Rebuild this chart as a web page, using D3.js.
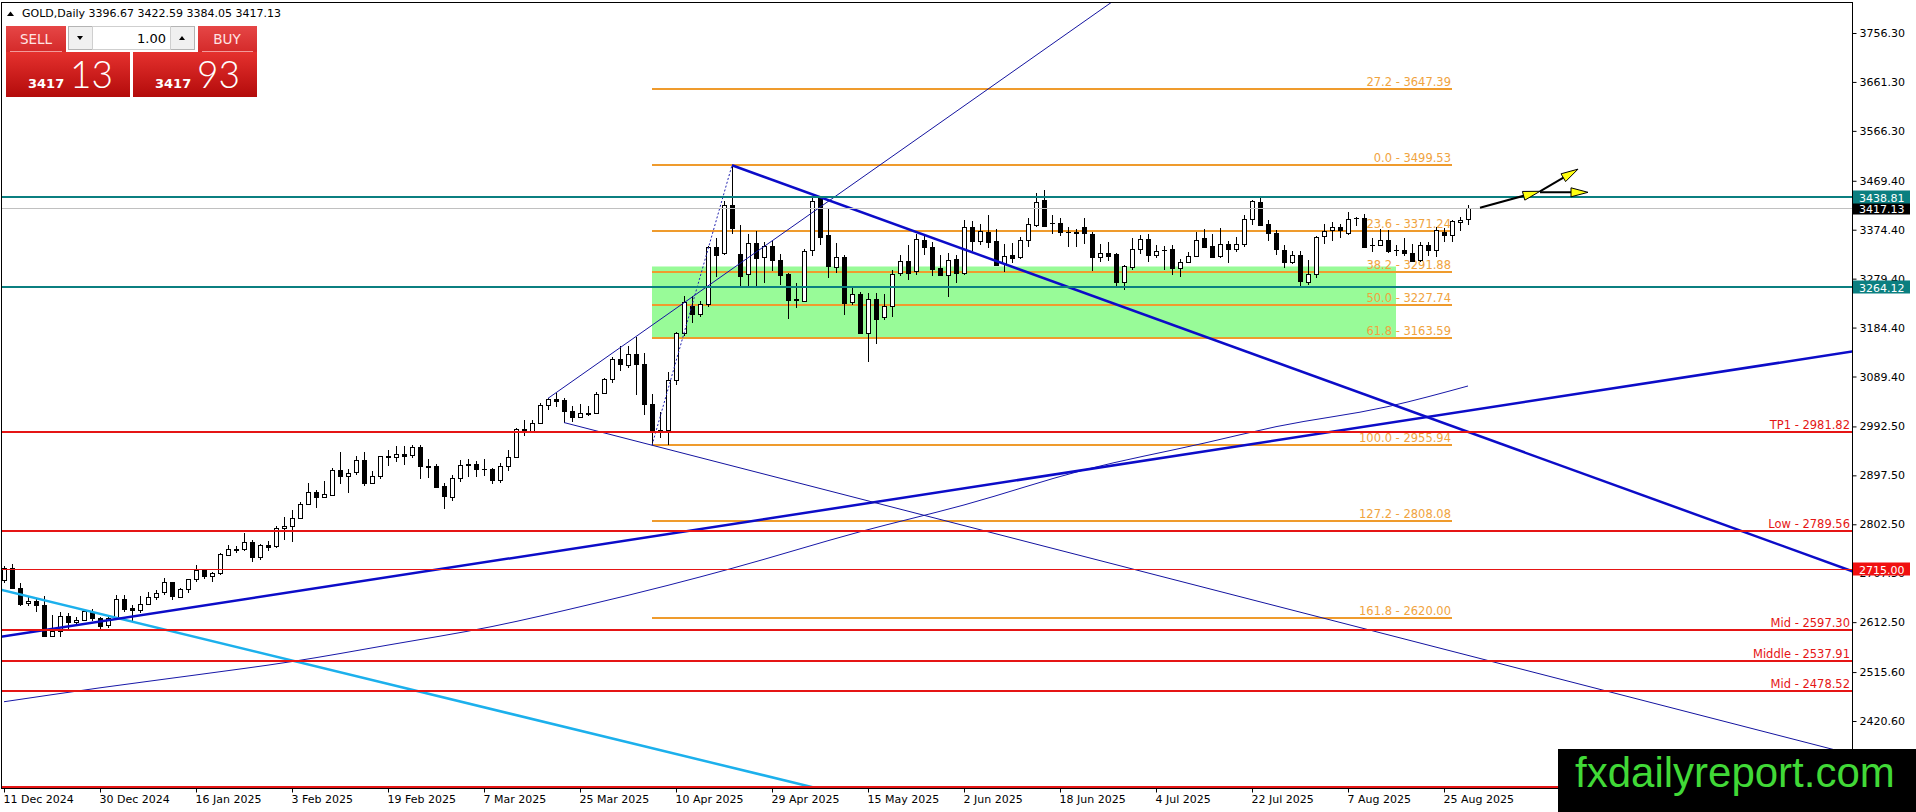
<!DOCTYPE html>
<html>
<head>
<meta charset="utf-8">
<script src="https://cdn.jsdelivr.net/npm/d3@7"></script>
<style>
body { margin: 0; background: #fff; overflow: hidden; }
</style>
</head>
<body>
<div id="chart"></div>
<script>
//data
const dates = [
"2024-12-11","2024-12-12","2024-12-13","2024-12-16","2024-12-17","2024-12-18","2024-12-19","2024-12-20","2024-12-23","2024-12-24","2024-12-26","2024-12-27",
"2024-12-30","2024-12-31","2025-01-02","2025-01-03","2025-01-06","2025-01-07","2025-01-08","2025-01-09","2025-01-10","2025-01-13","2025-01-14","2025-01-15",
"2025-01-16","2025-01-17","2025-01-20","2025-01-21","2025-01-22","2025-01-23","2025-01-24","2025-01-27","2025-01-28","2025-01-29","2025-01-30","2025-01-31",
"2025-02-03","2025-02-04","2025-02-05","2025-02-06","2025-02-07","2025-02-10","2025-02-11","2025-02-12","2025-02-13","2025-02-14","2025-02-17","2025-02-18",
"2025-02-19","2025-02-20","2025-02-21","2025-02-24","2025-02-25","2025-02-26","2025-02-27","2025-02-28","2025-03-03","2025-03-04","2025-03-05","2025-03-06",
"2025-03-07","2025-03-10","2025-03-11","2025-03-12","2025-03-13","2025-03-14","2025-03-17","2025-03-18","2025-03-19","2025-03-20","2025-03-21","2025-03-24",
"2025-03-25","2025-03-26","2025-03-27","2025-03-28","2025-03-31","2025-04-01","2025-04-02","2025-04-03","2025-04-04","2025-04-07","2025-04-08","2025-04-09",
"2025-04-10","2025-04-11","2025-04-14","2025-04-15","2025-04-16","2025-04-17","2025-04-21","2025-04-22","2025-04-23","2025-04-24","2025-04-25","2025-04-28",
"2025-04-29","2025-04-30","2025-05-01","2025-05-02","2025-05-05","2025-05-06","2025-05-07","2025-05-08","2025-05-09","2025-05-12","2025-05-13","2025-05-14",
"2025-05-15","2025-05-16","2025-05-19","2025-05-20","2025-05-21","2025-05-22","2025-05-23","2025-05-26","2025-05-27","2025-05-28","2025-05-29","2025-05-30",
"2025-06-02","2025-06-03","2025-06-04","2025-06-05","2025-06-06","2025-06-09","2025-06-10","2025-06-11","2025-06-12","2025-06-13","2025-06-16","2025-06-17",
"2025-06-18","2025-06-19","2025-06-20","2025-06-23","2025-06-24","2025-06-25","2025-06-26","2025-06-27","2025-06-30","2025-07-01","2025-07-02","2025-07-03",
"2025-07-04","2025-07-07","2025-07-08","2025-07-09","2025-07-10","2025-07-11","2025-07-14","2025-07-15","2025-07-16","2025-07-17","2025-07-18","2025-07-21",
"2025-07-22","2025-07-23","2025-07-24","2025-07-25","2025-07-28","2025-07-29","2025-07-30","2025-07-31","2025-08-01","2025-08-04","2025-08-05","2025-08-06",
"2025-08-07","2025-08-08","2025-08-11","2025-08-12","2025-08-13","2025-08-14","2025-08-15","2025-08-18","2025-08-19","2025-08-20","2025-08-21","2025-08-22",
"2025-08-25","2025-08-26","2025-08-27","2025-08-28"];
const opens = [
2694,2717,2679,2649,2653,2646,2586,2595,2624,2613,2617,2633, 2621,2606,2620,2658,2640,2636,2648,2662,2670,2690,2662,2677,
2697,2714,2703,2708,2744,2755,2755,2769,2740,2763,2760,2795, 2799,2814,2842,2866,2856,2860,2908,2897,2903,2927,2883,2897,
2935,2934,2939,2936,2952,2915,2916,2876,2857,2893,2918,2920, 2910,2910,2888,2916,2934,2988,2985,3000,3034,3046,3043,3022,
3011,3018,3019,3056,3084,3123,3113,3134,3114,3037,2982,2985, 3082,3174,3226,3211,3230,3341,3329,3422,3327,3287,3348,3322,
3343,3316,3288,3239,3237,3334,3436,3364,3303,3321,3233,3249, 3174,3240,3205,3226,3291,3314,3293,3354,3340,3300,3287,3318,
3290,3379,3351,3369,3353,3310,3325,3321,3354,3385,3432,3387, 3387,3369,3369,3379,3366,3322,3330,3327,3272,3302,3337,3356,
3325,3335,3337,3300,3312,3322,3358,3343,3322,3346,3338,3346, 3395,3429,3385,3368,3335,3312,3325,3274,3289,3361,3373,3379,
3368,3398,3398,3345,3345,3354,3335,3335,3330,3315,3345,3335, 3369,3363,3391,3396.67];
const highs = [
2721,2726,2688,2663,2657,2664,2626,2632,2630,2622,2638,2638, 2623,2627,2665,2665,2645,2664,2671,2675,2698,2691,2679,2697,
2724,2716,2710,2746,2763,2760,2786,2772,2765,2770,2800,2817, 2830,2845,2882,2870,2886,2911,2942,2909,2935,2943,2905,2936,
2947,2955,2954,2956,2956,2929,2919,2882,2899,2928,2930,2926, 2930,2912,2922,2947,2990,3005,3004,3038,3048,3057,3047,3033,
3036,3032,3060,3087,3128,3149,3148,3167,3136,3055,3020,3099, 3175,3245,3245,3236,3343,3358,3430,3500,3383,3367,3371,3350,
3352,3327,3291,3270,3336,3437,3438,3414,3349,3326,3265,3253, 3252,3252,3250,3296,3325,3345,3366,3364,3350,3325,3330,3325,
3393,3392,3385,3403,3376,3346,3349,3360,3398,3446,3451,3403, 3397,3380,3375,3398,3370,3346,3350,3329,3305,3358,3365,3366,
3345,3342,3345,3317,3331,3369,3375,3366,3377,3352,3361,3402, 3433,3439,3394,3373,3345,3334,3334,3315,3363,3385,3390,3385,
3409,3400,3404,3358,3375,3374,3345,3358,3346,3350,3351,3379, 3377,3393,3399,3422.59];
const lows = [
2689,2676,2643,2643,2632,2583,2583,2583,2600,2609,2616,2614, 2596,2602,2619,2633,2614,2631,2647,2656,2665,2656,2660,2670,
2691,2697,2690,2704,2741,2746,2751,2730,2733,2751,2756,2772, 2769,2813,2841,2834,2853,2860,2880,2864,2898,2877,2880,2890,
2915,2924,2918,2931,2890,2892,2872,2833,2848,2885,2894,2895, 2896,2880,2882,2905,2932,2974,2982,2999,3025,3030,2999,3002,
3010,3013,3016,3055,3076,3100,3105,3054,3015,2956,2970,2957, 3072,3168,3193,3205,3224,3283,3326,3367,3261,3261,3266,3270,
3294,3268,3202,3223,3235,3324,3345,3280,3290,3208,3228,3171, 3118,3152,3200,3205,3285,3277,3287,3325,3285,3285,3244,3271,
3287,3333,3345,3338,3304,3293,3310,3318,3341,3380,3382,3366, 3362,3341,3340,3347,3295,3311,3313,3262,3257,3296,3328,3311,
3320,3296,3287,3282,3309,3321,3341,3320,3319,3309,3332,3340, 3383,3381,3352,3325,3301,3307,3266,3268,3280,3346,3352,3358,
3365,3381,3341,3331,3342,3330,3323,3323,3311,3311,3324,3321, 3351,3351,3372,3384.05];
const closes = [
2717,2679,2647,2653,2645,2586,2595,2624,2613,2617,2634,2621, 2606,2620,2657,2639,2636,2648,2662,2670,2690,2662,2677,2697,
2714,2703,2708,2744,2755,2754,2769,2740,2763,2760,2795,2799, 2814,2842,2866,2856,2861,2908,2897,2903,2927,2883,2897,2935,
2934,2939,2936,2952,2915,2916,2876,2857,2893,2918,2920,2910, 2910,2888,2916,2934,2988,2985,3000,3034,3046,3043,3021,3011,
3018,3019,3056,3084,3123,3113,3134,3114,3037,2983,2985,3082, 3174,3235,3211,3230,3341,3325,3422,3378,3285,3348,3319,3343,
3316,3286,3237,3240,3334,3430,3360,3303,3322,3232,3249,3174, 3240,3201,3226,3288,3314,3291,3356,3340,3298,3287,3316,3290,
3379,3351,3371,3350,3306,3324,3320,3354,3385,3429,3382,3387, 3369,3369,3368,3367,3322,3330,3325,3272,3303,3337,3356,3325,
3333,3335,3300,3312,3323,3354,3341,3322,3346,3337,3347,3395, 3430,3385,3368,3337,3312,3325,3274,3289,3361,3371,3379,3373,
3395,3398,3341,3345,3354,3332,3335,3330,3315,3345,3335,3373, 3363,3391,3394,3417.13];

//200 day average, read at a few bars
const maDates = ["2024-12-11","2024-12-30","2025-01-16","2025-02-03","2025-02-19","2025-03-10","2025-03-26","2025-04-09",
  "2025-04-22","2025-05-14","2025-06-02","2025-06-23","2025-07-14","2025-07-25","2025-08-14","2025-08-28"];
const maValues = [2458,2485,2510,2536,2568,2604,2646,2684,2717,2788,2840,2908,2960,2992,3031,3071];

const yTicks = [3756.30,3661.30,3566.30,3469.40,3374.40,3279.40,3184.40,3089.40,2992.50,2897.50,2802.50,2707.50,2612.50,2515.60,2420.60];

const fibRatios = ["27.2","0.0","23.6","38.2","50.0","61.8","100.0","127.2","161.8"];
const fibPrices = [3647.39,3499.53,3371.24,3291.88,3227.74,3163.59,2955.94,2808.08,2620.00];
const fibSpan = ["2025-04-07","2025-08-26"];

const zoneSpan = ["2025-04-07","2025-08-15"];
const zonePrices = [3303,3163.59];

const levelNames = ["TP1","Low","","Mid","Middle","Mid",""];
const levelPrices = [2981.82,2789.56,2715.00,2597.30,2537.91,2478.52,2293];
const tealPrices = [3438.81,3264.12];
const bidPrice = 3417.13;
const askPrice = 3417.93;
const markPrices = [3417.13,3438.81,3264.12,2715.00];

const downTrend = [["2025-04-22",3499.53],["2025-08-28",2981.82]];
const upTrend = [["2024-12-11",2585],["2025-08-28",3023]];
const cyanTrend = [["2024-12-11",2674],["2025-04-28",2315]];
const channelTop = [["2025-03-19",3047],["2025-04-23",3309]];
const channelBottom = [["2025-03-21",3000],["2025-04-07",2956]];
const fibSwing = [["2025-04-07",2955.94],["2025-04-22",3499.53]];

//projection arrows (bar number, price)
const arrowFromBar = [184.5,192,192];
const arrowFromPrice = [3417,3449,3447];
const arrowToBar = [192,196.75,198];
const arrowToPrice = [3449,3492,3447];

//layout
var W = 1916, H = 812;
var plotLeft = 1, plotRight = 1852, plotTop = 2, plotBottom = 788;

const svg = d3.select("#chart").append("svg")
    .attr("width", W)
    .attr("height", H)
    .attr("font-family", "DejaVu Sans, sans-serif")
    .style("display", "block");

svg.append("rect").attr("width", W).attr("height", H).attr("fill", "#fff");

var defs = svg.append("defs");
defs.append("clipPath").attr("id", "plotclip").append("rect")
    .attr("x", plotLeft).attr("y", plotTop)
    .attr("width", plotRight - plotLeft).attr("height", plotBottom - plotTop);
var g1 = defs.append("linearGradient").attr("id", "redbox").attr("x1", 0).attr("y1", 0).attr("x2", 0).attr("y2", 1);
g1.append("stop").attr("offset", "0%").attr("stop-color", "#e5312e");
g1.append("stop").attr("offset", "100%").attr("stop-color", "#b30b0b");
var g2 = defs.append("linearGradient").attr("id", "redbtn").attr("x1", 0).attr("y1", 0).attr("x2", 0).attr("y2", 1);
g2.append("stop").attr("offset", "0%").attr("stop-color", "#e64646");
g2.append("stop").attr("offset", "100%").attr("stop-color", "#d42a2a");

//scales
var xScale = d3.scaleLinear().domain([0, 1]).range([4, 12]);
var yScale = d3.scaleLinear().domain([2420.6, 3756.3]).range([721, 33]);
function bx(date) { return xScale(dates.indexOf(date)); }

const plot = svg.append("g").attr("clip-path", "url(#plotclip)");

//green zone
plot.append("rect")
    .attr("x", bx(zoneSpan[0]))
    .attr("y", yScale(zonePrices[0]))
    .attr("width", bx(zoneSpan[1]) - bx(zoneSpan[0]))
    .attr("height", yScale(zonePrices[1]) - yScale(zonePrices[0]))
    .attr("fill", "#98fb98");

//fibonacci (behind the candles)
var fib = plot.append("g");
fib.selectAll("line").data(fibPrices).enter().append("line")
    .attr("x1", bx(fibSpan[0])).attr("x2", bx(fibSpan[1]))
    .attr("y1", function(d) { return Math.round(yScale(d)); })
    .attr("y2", function(d) { return Math.round(yScale(d)); })
    .attr("stroke", "#ef9b2d").attr("stroke-width", 2)
    .attr("shape-rendering", "crispEdges");
fib.selectAll("text").data(fibPrices).enter().append("text")
    .attr("x", bx(fibSpan[1]) - 1)
    .attr("y", function(d) { return Math.round(yScale(d)) - 3; })
    .attr("text-anchor", "end")
    .attr("font-size", "11.5px")
    .attr("fill", "#f0a33e")
    .text(function(d, i) { return fibRatios[i] + " - " + d.toFixed(2); });

//moving average
plot.append("path")
    .datum(maValues)
    .attr("d", d3.line()
        .curve(d3.curveMonotoneX)
        .x(function(d, i) { return bx(maDates[i]); })
        .y(function(d) { return yScale(d); }))
    .attr("fill", "none").attr("stroke", "#1818a8").attr("stroke-width", 1);

//candles
var idx = d3.range(dates.length);
var candles = plot.append("g").attr("shape-rendering", "crispEdges");
candles.selectAll("line").data(idx).enter().append("line")
    .attr("x1", function(i) { return xScale(i) + 0.5; })
    .attr("x2", function(i) { return xScale(i) + 0.5; })
    .attr("y1", function(i) { return yScale(highs[i]); })
    .attr("y2", function(i) { return yScale(lows[i]); })
    .attr("stroke", "#000");
candles.selectAll("rect").data(idx).enter().append("rect")
    .attr("x", function(i) { return xScale(i) - 1.5; })
    .attr("y", function(i) { return Math.round(yScale(Math.max(opens[i], closes[i]))) + 0.5; })
    .attr("width", 4)
    .attr("height", function(i) { return Math.max(0.01, Math.round(Math.abs(yScale(opens[i]) - yScale(closes[i])))); })
    .attr("fill", function(i) { return closes[i] >= opens[i] ? "#fff" : "#000"; })
    .attr("stroke", "#000");

//trend lines
function extend(pts, left, right) {
    var x0 = bx(pts[0][0]), y0 = yScale(pts[0][1]);
    var x1 = bx(pts[1][0]), y1 = yScale(pts[1][1]);
    var k = (y1 - y0) / (x1 - x0);
    var xa = left ? -20 : x0, xb = right ? W + 20 : x1;
    return [xa, y0 + (xa - x0) * k, xb, y0 + (xb - x0) * k];
}
var trends = [
    {pts: cyanTrend, l: true, r: true, c: "#1cb0ec", w: 2.5},
    {pts: upTrend, l: true, r: true, c: "#0c0cc8", w: 2.5},
    {pts: downTrend, l: false, r: true, c: "#0c0cc8", w: 2.5},
    {pts: channelTop, l: false, r: true, c: "#1414a0", w: 1},
    {pts: channelBottom, l: false, r: true, c: "#1414a0", w: 1}
];
plot.append("g").selectAll("line").data(trends).enter().append("line")
    .each(function(d) {
        var e = extend(d.pts, d.l, d.r);
        d3.select(this).attr("x1", e[0]).attr("y1", e[1]).attr("x2", e[2]).attr("y2", e[3]);
    })
    .attr("stroke", function(d) { return d.c; })
    .attr("stroke-width", function(d) { return d.w; });
var sw = extend(fibSwing, false, false);
plot.append("line").attr("x1", sw[0]).attr("y1", sw[1]).attr("x2", sw[2]).attr("y2", sw[3])
    .attr("stroke", "#2020b0").attr("stroke-dasharray", "2,2");

//horizontal levels
var levels = plot.append("g").attr("shape-rendering", "crispEdges");
levels.selectAll("line.red").data(levelPrices).enter().append("line")
    .attr("x1", plotLeft).attr("x2", plotRight)
    .attr("y1", function(d) { return Math.round(yScale(d)); })
    .attr("y2", function(d) { return Math.round(yScale(d)); })
    .attr("stroke", "#e51515")
    .attr("stroke-width", function(d) { return markPrices.indexOf(d) >= 0 ? 1 : 2; });
levels.selectAll("text").data(levelPrices.filter(function(d, i) { return levelNames[i] != ""; })).enter().append("text")
    .attr("x", plotRight - 2)
    .attr("y", function(d) { return Math.round(yScale(d)) - 3; })
    .attr("text-anchor", "end")
    .attr("font-size", "11.5px")
    .attr("fill", "#e51515")
    .text(function(d) { return levelNames[levelPrices.indexOf(d)] + " - " + d.toFixed(2); });
levels.selectAll("line.teal").data(tealPrices).enter().append("line")
    .attr("x1", plotLeft).attr("x2", plotRight)
    .attr("y1", function(d) { return Math.round(yScale(d)); })
    .attr("y2", function(d) { return Math.round(yScale(d)); })
    .attr("stroke", "#0b7f80").attr("stroke-width", 2);
levels.append("line")
    .attr("x1", plotLeft).attr("x2", plotRight)
    .attr("y1", Math.round(yScale(bidPrice)) + 0.5).attr("y2", Math.round(yScale(bidPrice)) + 0.5)
    .attr("stroke", "#c0c0c0");

//arrows
var arrows = svg.append("g");
arrowFromBar.forEach(function(b, i) {
    var xa = xScale(b), ya = yScale(arrowFromPrice[i]);
    var xb = xScale(arrowToBar[i]), yb = yScale(arrowToPrice[i]);
    var len = Math.hypot(xb - xa, yb - ya), ux = (xb - xa) / len, uy = (yb - ya) / len;
    arrows.append("line").attr("x1", xa).attr("y1", ya).attr("x2", xb - ux * 10).attr("y2", yb - uy * 10)
        .attr("stroke", "#000").attr("stroke-width", 2);
    var bxp = xb - ux * 17, byp = yb - uy * 17;
    arrows.append("path")
        .attr("d", "M" + xb + "," + yb + "L" + (bxp - uy * 4.5) + "," + (byp + ux * 4.5) + "L" + (bxp + uy * 4.5) + "," + (byp - ux * 4.5) + "Z")
        .attr("fill", "#ffff10").attr("stroke", "#000").attr("stroke-width", 1);
});

//frame and axes
svg.append("rect")
    .attr("x", plotLeft + 0.5).attr("y", plotTop + 0.5)
    .attr("width", plotRight - plotLeft).attr("height", plotBottom - plotTop)
    .attr("fill", "none").attr("stroke", "#000").attr("shape-rendering", "crispEdges");

var yAxis = svg.append("g")
    .attr("transform", "translate(" + (plotRight + 0.5) + ",0)")
    .call(d3.axisRight(yScale).tickValues(yTicks).tickSize(4).tickFormat(d3.format(".2f")));
yAxis.select(".domain").remove();
yAxis.attr("font-family", "DejaVu Sans, sans-serif").attr("font-size", 11);
yAxis.selectAll("text").attr("fill", "#000");

var xTicks = idx.filter(function(i) { return i % 12 == 0; });
var fmt = d3.timeFormat("%-d %b %Y"), parse = d3.timeParse("%Y-%m-%d");
var xAxis = svg.append("g")
    .attr("transform", "translate(0," + (plotBottom + 0.5) + ")")
    .call(d3.axisBottom(xScale).tickValues(xTicks).tickSize(4)
        .tickFormat(function(i) { return fmt(parse(dates[i])); }));
xAxis.select(".domain").remove();
xAxis.attr("font-family", "DejaVu Sans, sans-serif").attr("font-size", 11);
xAxis.selectAll("text").attr("text-anchor", "start").attr("x", -1).attr("fill", "#000");

//price marks on the axis
var marks = svg.append("g").selectAll("g").data(markPrices).enter().append("g")
    .attr("transform", function(d) { return "translate(" + (plotRight + 1) + "," + Math.round(yScale(d)) + ")"; });
marks.append("rect").attr("x", 0).attr("y", -6.5).attr("width", 57).attr("height", 13)
    .attr("fill", function(d) {
        if (tealPrices.indexOf(d) >= 0) return "#0b7f80";
        if (d == bidPrice) return "#000";
        return "#f01010";
    });
marks.append("text").attr("x", 6).attr("y", 4.5)
    .attr("font-size", "11px").attr("fill", "#fff")
    .text(function(d) { return d.toFixed(2); });

//header and trade panel
var last = dates.length - 1;
var head = svg.append("g");
head.append("path").attr("d", "M7,16 L10.5,11.5 L14,16 Z").attr("fill", "#000");
head.append("text").attr("x", 22).attr("y", 17).attr("font-size", "11px").attr("fill", "#000")
    .text("GOLD,Daily  " + [opens[last], highs[last], lows[last], closes[last]].map(function(v) { return v.toFixed(2); }).join(" "));

var panel = svg.append("g");
panel.append("rect").attr("x", 6).attr("y", 26).attr("width", 60).attr("height", 26).attr("fill", "url(#redbtn)");
panel.append("rect").attr("x", 198).attr("y", 26).attr("width", 59).attr("height", 26).attr("fill", "url(#redbtn)");
panel.append("text").attr("x", 36).attr("y", 44).attr("text-anchor", "middle").attr("font-size", "13.5px").attr("fill", "#ffe4e4").text("SELL");
panel.append("text").attr("x", 227).attr("y", 44).attr("text-anchor", "middle").attr("font-size", "13.5px").attr("fill", "#ffe4e4").text("BUY");
panel.append("line").attr("x1", 10).attr("x2", 62).attr("y1", 51.5).attr("y2", 51.5).attr("stroke", "#f29a9a");
panel.append("line").attr("x1", 202).attr("x2", 253).attr("y1", 51.5).attr("y2", 51.5).attr("stroke", "#f29a9a");
panel.append("rect").attr("x", 68.5).attr("y", 26.5).attr("width", 126).attr("height", 23).attr("fill", "#f0f0f0").attr("stroke", "#b4b4b4");
panel.append("rect").attr("x", 92.5).attr("y", 26.5).attr("width", 78).attr("height", 23).attr("fill", "#fff").attr("stroke", "#cfcfcf");
panel.append("path").attr("d", "M77,36 L83,36 L80,40 Z").attr("fill", "#000");
panel.append("path").attr("d", "M179,40 L185,40 L182,36 Z").attr("fill", "#000");
panel.append("text").attr("x", 166).attr("y", 43).attr("text-anchor", "end").attr("font-size", "13px").attr("fill", "#000").text("1.00");

var quotes = [bidPrice, askPrice];
var boxes = panel.selectAll("g.q").data(quotes).enter().append("g")
    .attr("transform", function(d, i) { return "translate(" + (6 + i * 127) + ",52)"; });
boxes.append("rect").attr("width", 124).attr("height", 45).attr("fill", "url(#redbox)");
boxes.append("text").attr("x", 22).attr("y", 36).attr("font-size", "13px").attr("font-weight", "bold").attr("fill", "#fff")
    .text(function(d) { return d.toFixed(2).slice(0, 4); });
boxes.append("text").attr("x", 64).attr("y", 36).attr("font-size", "37px").attr("font-family", "Lato, Open Sans, sans-serif")
    .attr("font-weight", 300).attr("fill", "#fff")
    .text(function(d) { return d.toFixed(2).slice(5); });

//watermark
svg.append("rect").attr("x", 1558).attr("y", 749).attr("width", 358).attr("height", 63).attr("fill", "#000");
svg.append("text").attr("x", 1575).attr("y", 787)
    .attr("font-family", "Liberation Sans, Arial, sans-serif").attr("font-size", "42px").attr("fill", "#41d937")
    .text("fxdailyreport.com");
</script>
</body>
</html>
